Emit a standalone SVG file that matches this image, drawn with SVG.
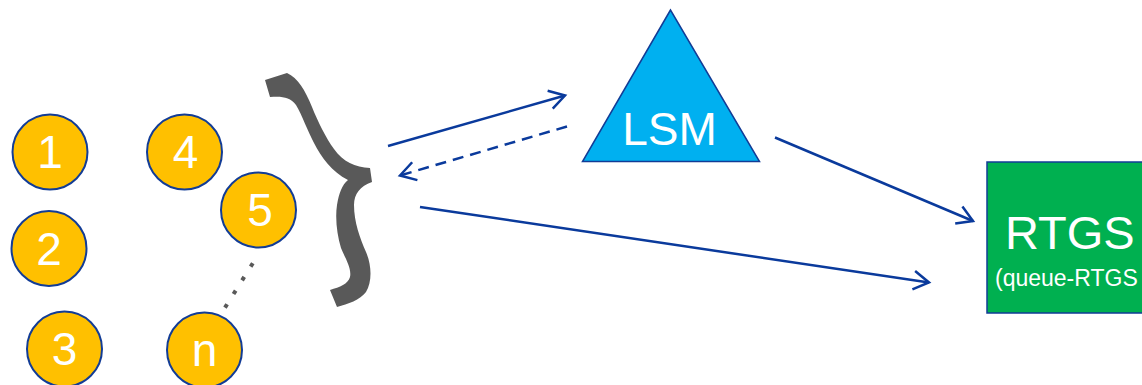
<svg xmlns="http://www.w3.org/2000/svg" width="1142" height="385" viewBox="0 0 1142 385">
  <defs>
    <style>
      .bank circle { fill: #FFC000; stroke: #123C96; stroke-width: 2; }
      .lbl { font-family: "Liberation Sans", Arial, sans-serif; fill: #FFFFFF; text-anchor: middle; }
      .num { font-size: 46px; }
      .flow { fill: none; stroke: #0A3A9C; stroke-width: 2.5; marker-end: url(#open-arrow); }
      .dashed { stroke-dasharray: 11 7; }
    </style>
    <marker id="open-arrow" viewBox="-19 -12 22 24" refX="0" refY="0" markerWidth="22" markerHeight="24" markerUnits="userSpaceOnUse" orient="auto">
      <path d="M -15.4 -9.3 L 0 0 L -15.4 9.3" fill="none" stroke="#0A3A9C" stroke-width="2.5" stroke-linejoin="miter"/>
    </marker>
  </defs>

  <rect width="1142" height="385" fill="#FFFFFF"/>

  <!-- participant banks -->
  <g id="bank-1" class="bank">
    <circle cx="50" cy="152" r="37.5"/>
    <text class="lbl num" x="50" y="168">1</text>
  </g>
  <g id="bank-2" class="bank">
    <circle cx="49" cy="248.5" r="37.5"/>
    <text class="lbl num" x="49" y="264.5">2</text>
  </g>
  <g id="bank-3" class="bank">
    <circle cx="64.5" cy="349" r="37.5"/>
    <text class="lbl num" x="64.5" y="365">3</text>
  </g>
  <g id="bank-4" class="bank">
    <circle cx="184.5" cy="152" r="37.5"/>
    <text class="lbl num" x="185.5" y="168">4</text>
  </g>
  <g id="bank-5" class="bank">
    <circle cx="258.5" cy="210" r="37.5"/>
    <text class="lbl num" x="260" y="226">5</text>
  </g>
  <g id="bank-n" class="bank">
    <circle cx="204.5" cy="350" r="37.5"/>
    <text class="lbl num" x="204.5" y="366">n</text>
  </g>

  <!-- ellipsis between 5 and n -->
  <g id="ellipsis">
    <line x1="252.8" y1="263.3" x2="224.9" y2="307.7" stroke="#595959" stroke-width="4" stroke-dasharray="4 12.1"/>
  </g>

  <!-- grouping brace -->
  <g id="brace">
    <path fill="#595959" d="M 265 80 L 287 73
      C 298 78, 305 90, 312 107
      C 318 122, 326 138, 334 149
      C 343 162, 355 167, 370 168
      L 372 182
      C 360 186, 354 194, 354 205
      C 354 222, 360 238, 366 252
      C 372 266, 372 282, 366 292
      C 360 300, 348 304, 337 307
      L 330 290
      C 340 287, 348 284, 350 277
      C 352 268, 344 256, 341 248
      C 337 235, 335 218, 337 205
      C 339 193, 342 185, 348 180
      C 332 172, 321 157, 314 143
      C 308 132, 302 115, 296 105
      C 290 97, 282 96, 270 97 Z"/>
  </g>

  <!-- liquidity saving mechanism -->
  <g id="lsm">
    <polygon points="670.5,10 582.5,161.5 759.5,161.5" fill="#00B0F0" stroke="#123C96" stroke-width="1.5"/>
    <text class="lbl" x="669.5" y="145" font-size="46">LSM</text>
  </g>

  <!-- settlement system -->
  <g id="rtgs">
    <rect x="987" y="162" width="170" height="151" fill="#00B050" stroke="#123C96" stroke-width="1.5"/>
    <text class="lbl" x="1005" y="249" font-size="47" style="text-anchor:start">RTGS</text>
    <text class="lbl" x="995" y="286" font-size="23" style="text-anchor:start">(queue-RTGS</text>
  </g>

  <!-- flows -->
  <g id="connectors">
    <line class="flow" x1="388" y1="146" x2="565" y2="95.5"/>
    <line class="flow dashed" x1="567" y1="126.5" x2="400" y2="175.5"/>
    <line class="flow" x1="775" y1="137.5" x2="973" y2="221"/>
    <line class="flow" x1="420" y1="207" x2="929" y2="282.5"/>
  </g>
</svg>
